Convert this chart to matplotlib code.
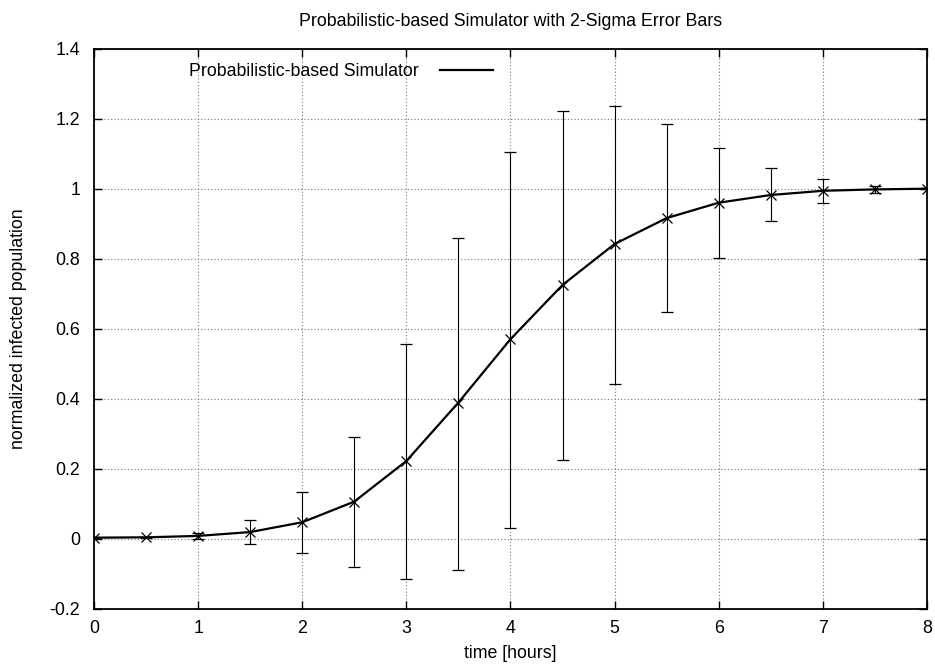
import matplotlib
matplotlib.use('Agg')

import matplotlib.pyplot as plt
from matplotlib.ticker import FuncFormatter

# ==============================
# DATA
# ==============================

time_hours = [0, 0.5, 1, 1.5, 2, 2.5, 3, 3.5, 4, 4.5, 5, 5.5, 6, 6.5, 7, 7.5, 8]
infected = [0.003, 0.004, 0.008, 0.019, 0.047, 0.106, 0.222, 0.389, 0.570,
            0.725, 0.842, 0.916, 0.960, 0.982, 0.994, 0.998, 1.000]
err_upper = [0.005, 0.006, 0.016, 0.053, 0.134, 0.291, 0.556, 0.860, 1.105,
             1.223, 1.237, 1.184, 1.117, 1.059, 1.027, 1.008, 1.002]
err_lower = [0.001, 0.002, 0.000, -0.016, -0.042, -0.082, -0.115, -0.088, 0.031,
             0.224, 0.443, 0.649, 0.802, 0.907, 0.960, 0.987, 0.998]

x_ticks = [0, 1, 2, 3, 4, 5, 6, 7, 8]
y_ticks = [-0.2, 0, 0.2, 0.4, 0.6, 0.8, 1, 1.2, 1.4]

# ==============================
# PLOT
# ==============================

plt.rcParams['font.family'] = ['Liberation Sans', 'DejaVu Sans']
FS = 12.8

fig = plt.figure(figsize=(9.35, 6.66), dpi=100)
ax = fig.add_axes([0.1005, 0.086, 0.8909, 0.8409])

yerr = [[m - lo for m, lo in zip(infected, err_lower)],
        [hi - m for m, hi in zip(infected, err_upper)]]

ax.errorbar(time_hours, infected, yerr=yerr, fmt='x', color='black',
            ecolor='black', elinewidth=0.8, capsize=4.5, capthick=0.8,
            markersize=7, markeredgewidth=0.9, zorder=3)
ax.plot(time_hours, infected, color='black', linewidth=1.6, zorder=4,
        label='Probabilistic-based Simulator')

ax.set_xlim(0, 8)
ax.set_ylim(-0.2, 1.4)
ax.set_xticks(x_ticks)
ax.set_yticks(y_ticks)
ax.yaxis.set_major_formatter(FuncFormatter(lambda v, p: '%g' % round(v, 2)))

ax.tick_params(direction='in', length=6, width=1, top=True, right=True,
               labelsize=FS, color='black')
ax.tick_params(axis='y', pad=10)
ax.tick_params(axis='x', pad=8)
for s in ax.spines.values():
    s.set_linewidth(1.3)

ax.grid(True, linestyle=(0, (1, 2)), color='#777777', linewidth=0.8)

ax.set_title('Probabilistic-based Simulator with 2-Sigma Error Bars',
             fontsize=FS, pad=16)
ax.set_xlabel('time [hours]', fontsize=FS, labelpad=6)
ax.set_ylabel('normalized infected population', fontsize=FS, labelpad=16)

leg = ax.legend(loc='upper left', bbox_to_anchor=(0.097, 1.0), frameon=False,
                markerfirst=False, handlelength=3.0, handletextpad=1.2,
                fontsize=FS, borderaxespad=0.4)

plt.savefig('out.png', dpi=100)
